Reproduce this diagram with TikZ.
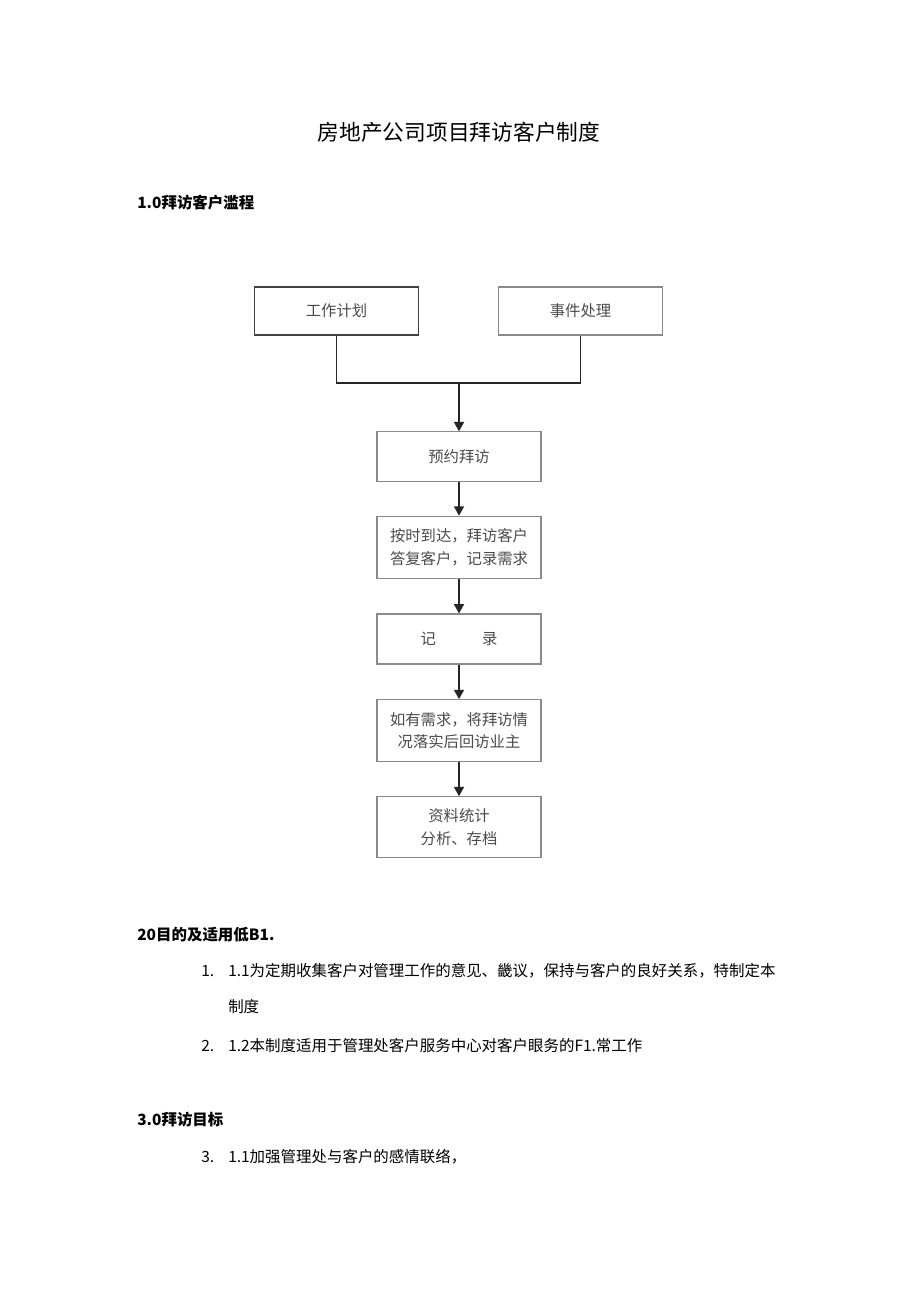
\documentclass[tikz,border=0pt]{standalone}
\usepackage{fontspec}
\setmainfont{Liberation Sans}
\newfontfamily\cjk{Noto Sans CJK SC}
\usetikzlibrary{positioning,arrows.meta}
\definecolor{boxtext}{HTML}{4A4A4A}
\definecolor{boxline}{HTML}{8A8A8A}
\begin{document}
\begin{tikzpicture}[x=0.75pt,y=-0.75pt]
        \tikzstyle{step box}=[draw=boxline,line width=0.8pt,minimum width=123pt,align=center,
                font=\cjk\fontsize{11.5}{17}\selectfont,text=boxtext,inner sep=2pt]
        \tikzstyle{flow}=[line width=1.2pt,draw=black!85]
        \tikzstyle{flow arrow}=[flow,-{Triangle[length=7pt,width=7.5pt]}]
        \tikzstyle{heading}=[anchor=west,inner sep=0pt,font=\cjk\bfseries\fontsize{11.6}{14}\selectfont]
        \tikzstyle{body}=[anchor=west,inner sep=0pt,font=\cjk\fontsize{11.6}{14}\selectfont]
        \useasboundingbox (0,0) rectangle (920,1301);

        % Title and first heading
        \node[inner sep=0pt,font=\cjk\fontsize{16.3}{20}\selectfont](title) at (459,132){房地产公司项目拜访客户制度};
        \node[heading](h1) at (137,203){1.0拜访客户滥程};

        % Flow chart
        \node[step box,draw=black!75,line width=1.3pt,minimum height=36pt](plan) at (336.5,311){工作计划};
        \node[step box,minimum height=36pt](event) at (580.5,311){事件处理};
        \node[step box,minimum height=37pt](appoint) at (459,456.5){预约拜访};
        \node[step box,minimum height=47pt,below=25.5pt of appoint](visit){按时到达，拜访客户\\答复客户，记录需求};
        \node[step box,minimum height=37.5pt,below=25.5pt of visit](record){记\hspace{3em}录};
        \node[step box,minimum height=46.5pt,below=26pt of record](feedback){如有需求，将拜访情\\况落实后回访业主};
        \node[step box,minimum height=45.5pt,below=25.5pt of feedback](archive){资料统计\\分析、存档};

        \coordinate(join) at (459,383);
        \draw[flow] (plan.south) |- (join) -| (event.south);
        \draw[flow arrow] (join) -- (appoint.north);
        \draw[flow arrow] (appoint) -- (visit);
        \draw[flow arrow] (visit) -- (record);
        \draw[flow arrow] (record) -- (feedback);
        \draw[flow arrow] (feedback) -- (archive);

        % Text below the chart
        \node[heading](h2) at (137,935){20目的及适用低B1.};
        \node[body](n1) at (201,971){1.};
        \node[body](t1) at (228,971){1.1为定期收集客户对管理工作的意见、畿议，保持与客户的良好关系，特制定本};
        \node[body](t1b) at (228,1007){制度};
        \node[body](n2) at (201,1046){2.};
        \node[body](t2) at (228,1046){1.2本制度适用于管理处客户服务中心对客户眼务的F1.常工作};
        \node[heading](h3) at (137,1120){3.0拜访目标};
        \node[body](n3) at (201,1157){3.};
        \node[body](t3) at (228,1157){1.1加强管理处与客户的感情联络，};
\end{tikzpicture}
\end{document}
